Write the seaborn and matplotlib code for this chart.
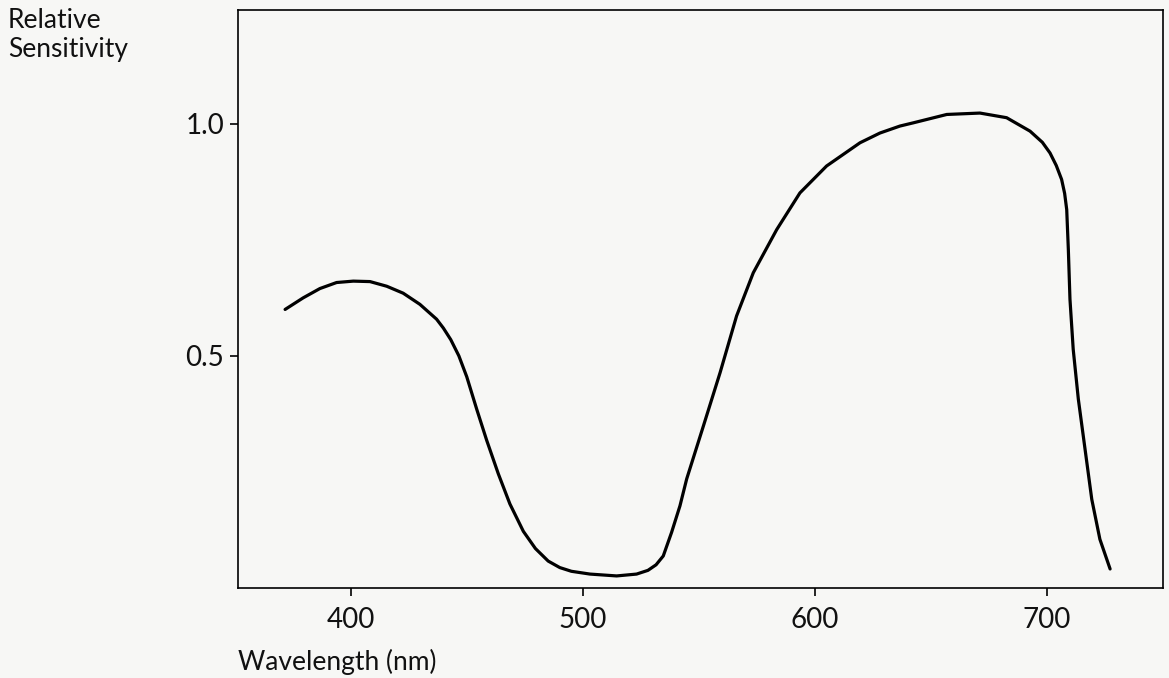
import matplotlib
matplotlib.use("Agg")
import matplotlib.pyplot as plt
import seaborn as sns
import pandas as pd

wavelength_nm = [371.6, 379.4, 386.6, 393.8, 401.0, 408.2, 415.4, 422.5, 429.7, 436.9,
                 439.8, 443.0, 446.5, 449.9, 454.2, 458.5, 463.5, 468.5, 474.3, 479.5,
                 485.0, 490.0, 495.0, 503.0, 514.5, 523.1, 528.0, 531.5, 534.6, 538.2,
                 541.8, 544.7, 551.9, 559.1, 566.2, 573.4, 583.5, 593.5, 605.0, 619.4,
                 628.0, 636.6, 642.4, 656.8, 671.1, 682.6, 692.7, 698.0, 701.3, 704.0,
                 706.3, 707.6, 708.5, 709.2, 709.9, 711.3, 713.5, 716.4, 719.3, 722.8,
                 727.2]
sensitivity = [0.600, 0.625, 0.645, 0.658, 0.661, 0.660, 0.650, 0.635, 0.611, 0.579,
               0.560, 0.535, 0.500, 0.455, 0.385, 0.318, 0.246, 0.181, 0.122, 0.085,
               0.058, 0.044, 0.036, 0.030, 0.026, 0.030, 0.038, 0.050, 0.069, 0.120,
               0.177, 0.235, 0.349, 0.464, 0.586, 0.679, 0.772, 0.851, 0.909, 0.959,
               0.980, 0.995, 1.002, 1.020, 1.023, 1.013, 0.984, 0.960, 0.937, 0.910,
               0.880, 0.850, 0.815, 0.729, 0.622, 0.514, 0.407, 0.299, 0.191, 0.105,
               0.041]
x_ticks = [400, 500, 600, 700]
y_ticks = [0.5, 1.0]
y_tick_labels = ["0.5", "1.0"]

sns.set_theme(style="white")
plt.rcParams['font.family'] = ['Lato', 'DejaVu Sans']

bg = "#f7f7f5"
fig = plt.figure(figsize=(11.69, 6.78), dpi=100, facecolor=bg)
ax = fig.add_axes([238/1169, 1 - 588/678, (1163 - 238)/1169, (588 - 10)/678])
ax.set_facecolor(bg)

df = pd.DataFrame({"Wavelength": wavelength_nm, "Sensitivity": sensitivity})
sns.lineplot(data=df, x="Wavelength", y="Sensitivity", ax=ax, color="black",
             linewidth=2.3, sort=False)
for ln in ax.get_lines():
    ln.set_solid_joinstyle("round")
    ln.set_solid_capstyle("round")

ax.set_xlim(351.3, 750)
ax.set_ylim(0, 1.245)
ax.set_xticks(x_ticks)
ax.set_xticklabels([str(v) for v in x_ticks])
ax.set_yticks(y_ticks)
ax.set_yticklabels(y_tick_labels)
ax.tick_params(axis="both", direction="out", length=6, width=1.2, color="black",
               labelsize=20, colors="#111111", pad=6)
ax.tick_params(axis="x", bottom=True, pad=8)
ax.tick_params(axis="y", left=True, pad=4)
for s in ax.spines.values():
    s.set_visible(True)
    s.set_color("black")
    s.set_linewidth(1.2)
ax.set_xlabel("")
ax.set_ylabel("")

fig.text(8/1169, 1 - 8/678, "Relative\nSensitivity", ha="left", va="top",
         fontsize=19, color="#111111", linespacing=1.2)
fig.text(238/1169, 1 - 675/678, "Wavelength (nm)", ha="left", va="bottom",
         fontsize=19, color="#111111")

fig.savefig("out.png", dpi=100, facecolor=bg)
